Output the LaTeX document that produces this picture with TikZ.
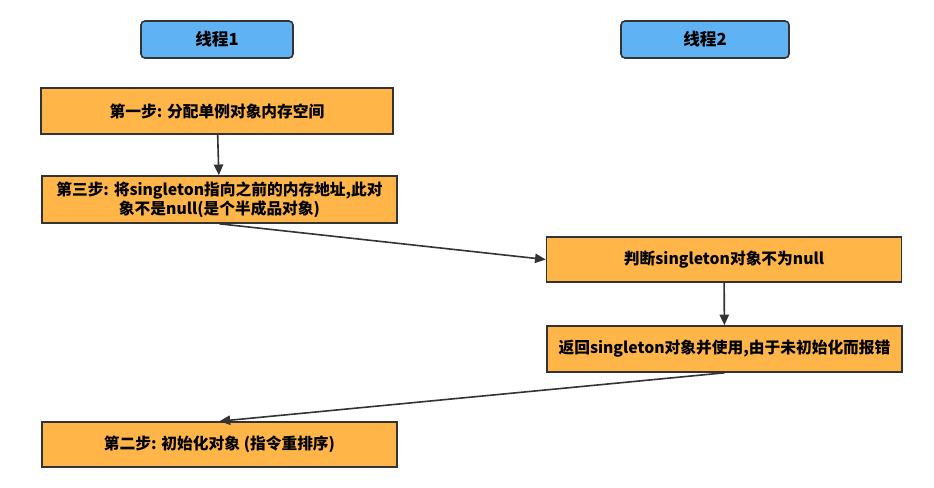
\documentclass[tikz,border=0pt]{standalone}
\usepackage{fontspec}
\setmainfont{Noto Sans CJK SC}
\usepackage{xcolor}
\usetikzlibrary{arrows.meta, positioning}

\definecolor{threadblue}{HTML}{5FB3F5}
\definecolor{steporange}{HTML}{FFB547}
\definecolor{linegray}{HTML}{333333}

\begin{document}
\begin{tikzpicture}[x=0.75pt,y=-0.75pt,>={Triangle[length=8pt,width=7pt]},
        thread/.style={draw=linegray, fill=threadblue, line width=1.2pt, rounded corners=3pt,
            minimum height=37*0.75pt, font=\fontsize{12.5}{15}\selectfont\bfseries},
        stepbox/.style={draw=linegray, fill=steporange, line width=1.2pt, align=center,
            minimum width=355*0.75pt, minimum height=46*0.75pt, inner sep=2pt,
            font=\fontsize{11.8}{14.5}\selectfont\bfseries},
        flow/.style={->, draw=linegray, line width=1.2pt}]
    % \draw[help lines] (0,0) grid (934,487);
    \useasboundingbox (0,0) rectangle (934,487);

    \node[thread, minimum width=152*0.75pt] (t_1) at (217,39.5) {线程1};
    \node[thread, minimum width=168*0.75pt] (t_2) at (705,39.5) {线程2};

    \node[stepbox, minimum width=352*0.75pt] (s_1) at (217,111) {第一步: 分配单例对象内存空间};
    \node[stepbox, minimum height=47*0.75pt] (s_3) at (219.5,199.5)
        {第三步: 将singleton指向之前的内存地址,此对\\象不是null(是个半成品对象)};
    \node[stepbox, minimum height=45*0.75pt] (check) at (724,259.5) {判断singleton对象不为null};
    \node[stepbox] (use) at (724.5,349) {返回singleton对象并使用,由于未初始化而报错};
    \node[stepbox, minimum height=45*0.75pt] (s_2) at (219.5,444.5) {第二步: 初始化对象 (指令重排序)};

    \draw[flow] (s_1) -- (s_3);
    \draw[flow] (s_3.south) -- (check.west);
    \draw[flow] (check) -- (use);
    \draw[flow] (use.south) -- (s_2.north);
\end{tikzpicture}
\end{document}
